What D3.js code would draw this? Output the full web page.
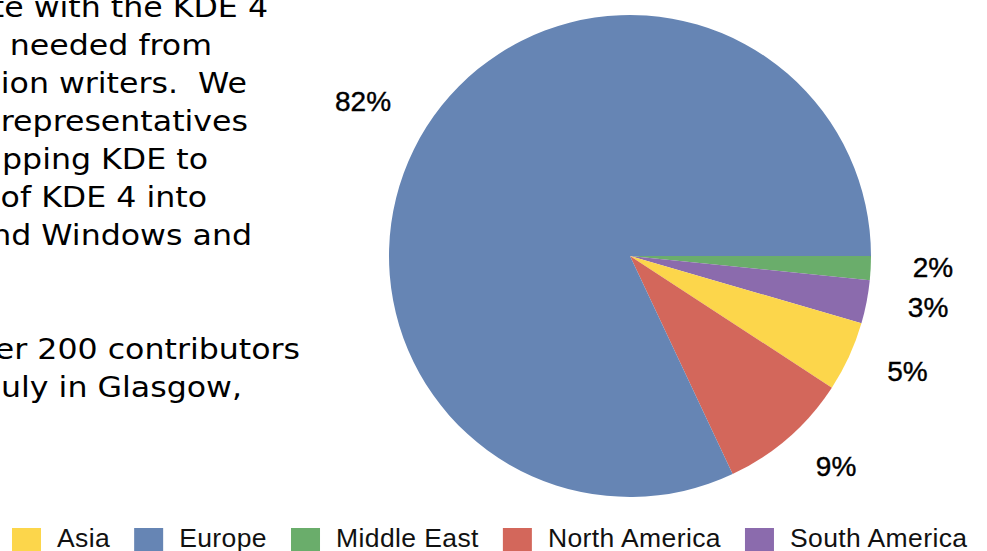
<!DOCTYPE html>
<html>
<head>
<meta charset="utf-8">
<script src="https://cdn.jsdelivr.net/npm/d3@7"></script>
<style>
  html, body { margin: 0; padding: 0; background: #fff; overflow: hidden; }
  svg { display: block; }
</style>
</head>
<body>
<svg id="chart" width="987" height="551"></svg>
<script>
'use strict';

// regions, clockwise from 3 o'clock as drawn
var regions = ["Middle East", "South America", "Asia", "North America", "Europe"];
var shares = [1.6, 2.9, 4.7, 8.8, 82.0];
var regionColors = ["#6aad6b", "#8b6bad", "#fcd64b", "#d3675b", "#6685b4"];

// legend order
var legendOrder = ["Asia", "Europe", "Middle East", "North America", "South America"];

// paragraph text cut off at left edge of the page
var proseLines = [
  "te with the KDE 4",
  "needed from",
  "ion writers.  We",
  "representatives",
  "pping KDE to",
  "of KDE 4 into",
  "nd Windows and",
  "",
  "",
  "er 200 contributors",
  "uly in Glasgow,"
];
var proseRightEdge = [268, 212, 247, 248, 208, 207, 252, 0, 0, 300, 242];

var svg = d3.select("#chart");
var center = {x: 630, y: 256};
var radius = 241;
var labelRadius = 283;
var proseStretch = 1.13;

// prose (the page font renders a bit wider than DejaVu, so stretch it)
var prose = svg.append("g").attr("class", "prose")
  .attr("transform", "scale(" + proseStretch + " 1)");
prose.selectAll("text").data(proseLines).enter().append("text")
  .attr("x", function(d, i){ return proseRightEdge[i] / proseStretch; })
  .attr("y", function(d, i){ return 17 + i * 38; })
  .attr("text-anchor", "end")
  .style("white-space", "pre")
  .style("font-family", "'DejaVu Sans', sans-serif")
  .style("font-size", "28px")
  .style("fill", "#000")
  .text(function(d){ return d; });

var color = d3.scaleOrdinal().domain(regions).range(regionColors);

var pie = d3.pie()
  .sort(null)
  .value(function(d){ return d.value; })
  .startAngle(Math.PI / 2)
  .endAngle(Math.PI / 2 + 2 * Math.PI);

var data = regions.map(function(r, i){ return {name: r, value: shares[i]}; });
var arcs = pie(data);

var arc = d3.arc().innerRadius(0).outerRadius(radius);

var pieGroup = svg.append("g")
  .attr("transform", "translate(" + center.x + " " + center.y + ")");

pieGroup.selectAll("path").data(arcs).enter().append("path")
  .attr("d", arc)
  .style("fill", function(d){ return color(d.data.name); });

function midAngle(d) {
  return (d.startAngle + d.endAngle) / 2 - Math.PI / 2;
}

// percentage labels outside the slices
pieGroup.selectAll("text").data(arcs).enter().append("text")
  .attr("transform", function(d){
    var a = midAngle(d);
    return "translate(" + (Math.cos(a) * labelRadius) + " " + (Math.sin(a) * labelRadius) + ")";
  })
  .attr("text-anchor", function(d){
    return Math.cos(midAngle(d)) >= 0 ? "start" : "end";
  })
  .attr("dy", "0.25em")
  .style("font-family", "'Liberation Sans', Arial, sans-serif")
  .style("font-size", "28px")
  .style("fill", "#000")
  .style("stroke", "#000")
  .style("stroke-width", "0.4px")
  .text(function(d){ return Math.round(d.data.value) + "%"; });

// legend along the bottom
var legend = svg.append("g").attr("class", "legend");
var lx = 12;
legendOrder.forEach(function(name){
  var item = legend.append("g").attr("transform", "translate(" + lx + " 528)");
  item.append("rect")
    .attr("width", 29).attr("height", 29)
    .style("fill", color(name));
  var t = item.append("text")
    .attr("x", 45).attr("y", 19)
    .style("font-family", "'Liberation Sans', Arial, sans-serif")
    .style("font-size", "26.5px")
    .style("letter-spacing", "0.4px")
    .style("fill", "#111")
    .text(name);
  lx += 45 + t.node().getComputedTextLength() + 24;
});
</script>
</body>
</html>
